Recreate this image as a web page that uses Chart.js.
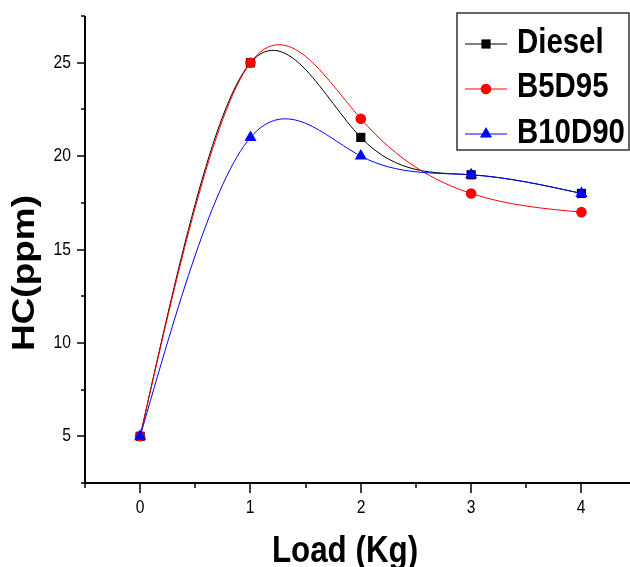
<!DOCTYPE html>
<html><head><meta charset="utf-8">
<script src="https://cdn.jsdelivr.net/npm/chart.js@4/dist/chart.umd.min.js"></script>
<style>html,body{margin:0;padding:0;background:#fff;overflow:hidden}#wrap{width:630px;height:567px}</style>
</head><body><div id="wrap"><canvas id="c" width="630" height="567"></canvas></div>
<script>
const loads = [0, 1, 2, 3, 4];
const diesel = [5, 25, 21, 19, 18];
const b5d95 = [5, 25, 22, 18, 17];
const b10d90 = [5, 21, 20, 19, 18];
const seriesNames = ['Diesel', 'B5D95', 'B10D90'];
const xTitle = 'Load (Kg)';
const yTitle = 'HC(ppm)';

const SANS = "'Liberation Sans', Arial, sans-serif";
const SQ = 0.87; // horizontal squeeze of the original picture

function pts(ys){ return loads.map((x,i)=>({x:x,y:ys[i]})); }

function sText(ctx, txt, x, y, font, align, baseline, rot, sq){
  ctx.save();
  ctx.translate(x, y);
  ctx.scale(sq || SQ, 1);
  if (rot) ctx.rotate(rot);
  ctx.font = font; ctx.textAlign = align; ctx.textBaseline = baseline;
  ctx.fillText(txt, 0, 0);
  ctx.restore();
}

// natural cubic spline control points (Origin-like spline connection)
const splinePlugin = {
  id: 'splinePlugin',
  beforeDatasetDraw(chart, args){
    const meta = args.meta;
    if (!meta.dataset) return;
    meta.dataset.updateControlPoints(chart.chartArea, 'x');
    const p = meta.data, n = p.length;
    if (n < 3) return;
    const X = p.map(q=>q.x), Y = p.map(q=>q.y);
    const h = []; for (let i=0;i<n-1;i++) h.push(X[i+1]-X[i]);
    const a=[], b=[], c=[], d=[];
    for (let i=1;i<n-1;i++){
      a.push(h[i-1]); b.push(2*(h[i-1]+h[i])); c.push(h[i]);
      d.push(6*((Y[i+1]-Y[i])/h[i] - (Y[i]-Y[i-1])/h[i-1]));
    }
    const m = a.length;
    for (let i=1;i<m;i++){ const w = a[i]/b[i-1]; b[i] -= w*c[i-1]; d[i] -= w*d[i-1]; }
    const Mi = new Array(m);
    Mi[m-1] = d[m-1]/b[m-1];
    for (let i=m-2;i>=0;i--) Mi[i] = (d[i]-c[i]*Mi[i+1])/b[i];
    const M = [0, ...Mi, 0];
    const der = [];
    for (let i=0;i<n-1;i++) der.push((Y[i+1]-Y[i])/h[i] - h[i]*(2*M[i]+M[i+1])/6);
    der.push((Y[n-1]-Y[n-2])/h[n-2] + h[n-2]*(M[n-2]+2*M[n-1])/6);
    for (let i=0;i<n;i++){
      if (i<n-1){ p[i].cp2x = X[i]+h[i]/3; p[i].cp2y = Y[i]+der[i]*h[i]/3; }
      else { p[i].cp2x = X[i]; p[i].cp2y = Y[i]; }
      if (i>0){ p[i].cp1x = X[i]-h[i-1]/3; p[i].cp1y = Y[i]-der[i]*h[i-1]/3; }
      else { p[i].cp1x = X[i]; p[i].cp1y = Y[i]; }
    }
  }
};

const axesPlugin = {
  id:'axesPlugin',
  afterDraw(chart){
    const ctx = chart.ctx, a = chart.chartArea;
    const xs = chart.scales.x, ys = chart.scales.y;
    ctx.save();
    ctx.strokeStyle = '#000'; ctx.fillStyle = '#000'; ctx.lineWidth = 2;
    ctx.beginPath();
    ctx.moveTo(a.left, a.top); ctx.lineTo(a.left, a.bottom+1);
    ctx.moveTo(a.left-1, a.bottom); ctx.lineTo(a.right, a.bottom);
    ctx.stroke();
    ctx.lineWidth = 1.5;
    ys.ticks.forEach(t=>{
      if (t.value < ys.min - 1e-6 || t.value > ys.max + 1e-6) return;
      const y = Math.round(ys.getPixelForValue(t.value));
      const major = Math.abs(t.value % 5) < 1e-6;
      ctx.beginPath(); ctx.moveTo(a.left, y); ctx.lineTo(a.left - (major?8:4), y); ctx.stroke();
      if (major) sText(ctx, String(t.value), 71, y, "18px " + SANS, 'right', 'middle');
    });
    xs.ticks.forEach(t=>{
      if (t.value < xs.min - 1e-6 || t.value > xs.max) return;
      const x = Math.round(xs.getPixelForValue(t.value));
      const major = Math.abs(t.value - Math.round(t.value)) < 1e-6;
      ctx.beginPath(); ctx.moveTo(x, a.bottom); ctx.lineTo(x, a.bottom + (major?10:5)); ctx.stroke();
      if (major) sText(ctx, String(Math.round(t.value)), x, 513, "18px " + SANS, 'center', 'alphabetic');
    });
    // titles
    sText(ctx, xTitle, 345, 562, "bold 36px " + SANS, 'center', 'alphabetic');
    sText(ctx, yTitle, 25, 273, "bold 37px " + SANS, 'center', 'middle', -Math.PI/2);
    // legend
    const bx = 457, by = 13, bw = 172, bh = 137;
    ctx.lineWidth = 1.5; ctx.strokeStyle = '#333';
    ctx.fillStyle = '#fff';
    ctx.fillRect(bx, by, bw, bh);
    ctx.strokeRect(bx, by, bw, bh);
    const rows = [44, 89, 134];
    const bases = [53, 97, 143];
    chart.data.datasets.forEach((ds, i)=>{
      const y = rows[i];
      ctx.strokeStyle = ds.borderColor; ctx.lineWidth = 1;
      ctx.beginPath(); ctx.moveTo(465, y); ctx.lineTo(507, y); ctx.stroke();
      ctx.fillStyle = ds.pointBackgroundColor;
      ctx.strokeStyle = ds.pointBackgroundColor;
      Chart.helpers.drawPoint(ctx, {pointStyle: ds.pointStyle, radius: ds.pointRadius, borderWidth: 0, rotation:0}, 486, y);
      ctx.fillStyle = '#000';
      sText(ctx, ds.label, 517, bases[i], "bold 35px " + SANS, 'left', 'alphabetic', null, 0.84);
    });
    ctx.restore();
  }
};

function mk(label, data, color, style, r, order){
  return {label, data: pts(data), borderColor: color, backgroundColor: color,
    pointBackgroundColor: color, pointBorderColor: color, pointBorderWidth: 0,
    pointStyle: style, pointRadius: r, pointHoverRadius: r, borderWidth: 1,
    tension: 0.4, fill: false, order};
}

new Chart(document.getElementById('c'), {
  type: 'line',
  data: { datasets: [
    mk(seriesNames[0], diesel, '#000000', 'rect', 6.5, 3),
    mk(seriesNames[1], b5d95, '#ff0000', 'circle', 5.3, 2),
    mk(seriesNames[2], b10d90, '#0000ff', 'triangle', 7, 1)
  ]},
  options: {
    responsive: false, animation: false, devicePixelRatio: 1,
    layout: { autoPadding: false, padding: { top: 16, right: 0, left: 0, bottom: 0 } },
    plugins: { legend: { display: false }, tooltip: { enabled: false } },
    scales: {
      x: { type: 'linear', min: -0.5, max: 4.44,
        afterFit(s){ s.height = 84; s.paddingLeft = 0; s.paddingRight = 0; },
        grid: { display: false, drawTicks: false }, border: { display: false },
        ticks: { display: false, stepSize: 0.5, includeBounds: false, autoSkip: false } },
      y: { type: 'linear', min: 2.5, max: 27.5,
        afterFit(s){ s.width = 85; s.paddingTop = 0; s.paddingBottom = 0; },
        grid: { display: false, drawTicks: false }, border: { display: false },
        ticks: { display: false, stepSize: 2.5, includeBounds: false, autoSkip: false } }
    }
  },
  plugins: [splinePlugin, axesPlugin]
});
</script></body></html>
